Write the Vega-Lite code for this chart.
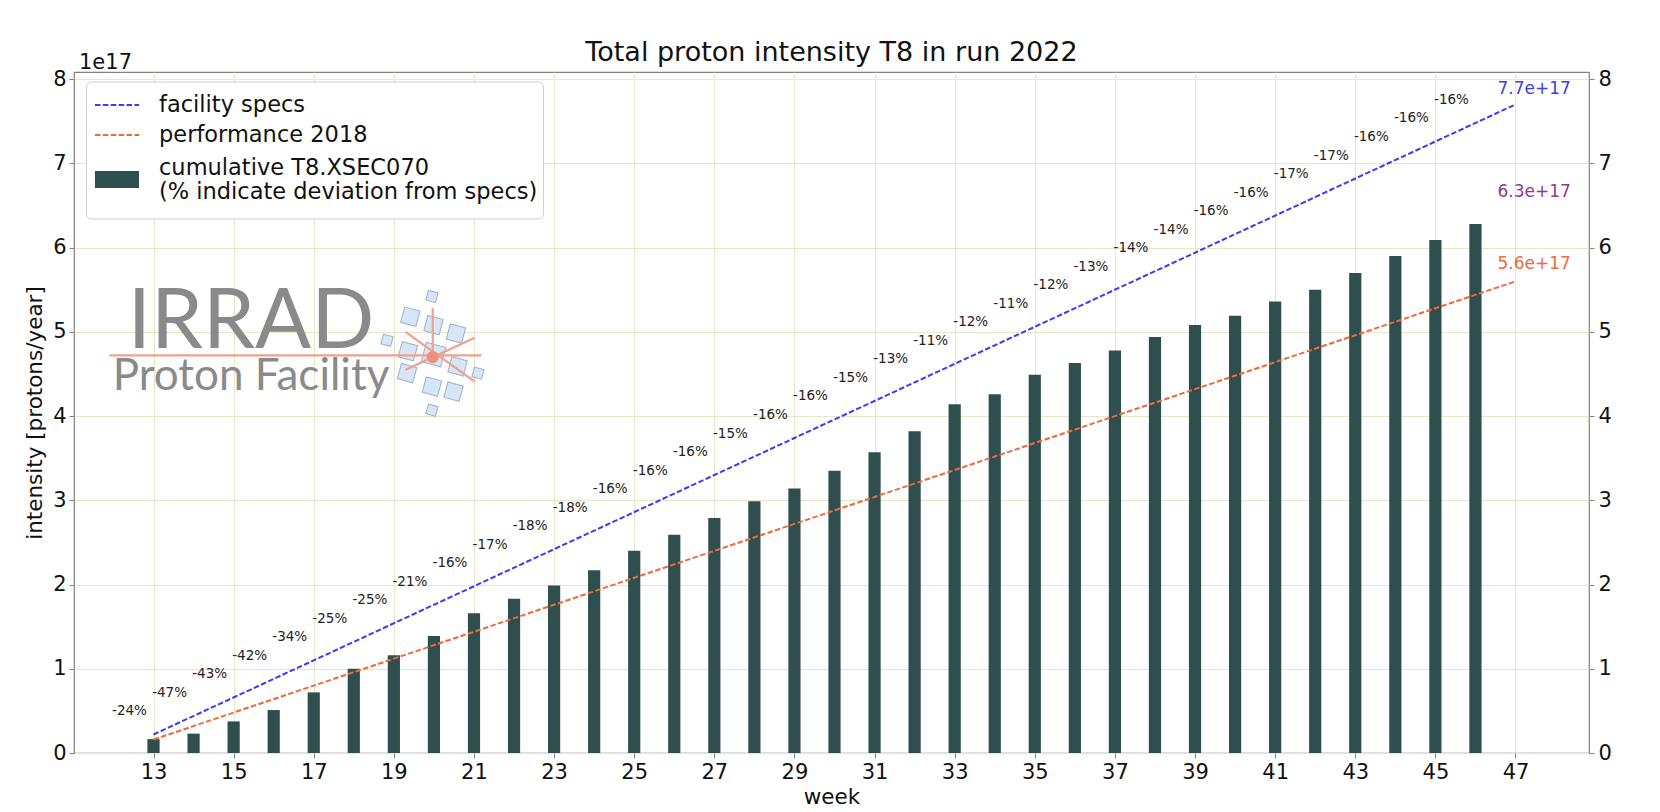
{
  "$schema": "https://vega.github.io/schema/vega-lite/v6.json",
  "width": 1515,
  "height": 681,
  "autosize": {"type": "none"},
  "padding": {"left": 74, "top": 72, "right": 71, "bottom": 58},
  "background": "white",
  "title": {
    "text": "Total proton intensity T8 in run 2022",
    "font": "DejaVu Sans",
    "fontSize": 27,
    "fontWeight": "normal",
    "color": "#111111",
    "offset": -15
  },
  "config": {
    "font": "DejaVu Sans",
    "view": {"stroke": "#808080", "strokeWidth": 1.2},
    "axis": {
      "labelFont": "DejaVu Sans",
      "labelFontSize": 21,
      "labelColor": "#111111",
      "titleFont": "DejaVu Sans",
      "titleFontSize": 21.5,
      "titleFontWeight": "normal",
      "titleColor": "#111111",
      "domain": false,
      "tickColor": "#808080",
      "tickSize": 5,
      "gridColor": "#ebe5c8",
      "gridWidth": 1,
      "gridOpacity": 1,
      "labelOverlap": false,
      "labelFlush": false
    }
  },
  "datasets": {
    "weeks": [
      {"week": 13, "value": 0.165, "spec": 0.22, "dev": "-24%"},
      {"week": 14, "value": 0.23, "spec": 0.44, "dev": "-47%"},
      {"week": 15, "value": 0.375, "spec": 0.66, "dev": "-43%"},
      {"week": 16, "value": 0.51, "spec": 0.88, "dev": "-42%"},
      {"week": 17, "value": 0.72, "spec": 1.10, "dev": "-34%"},
      {"week": 18, "value": 1.00, "spec": 1.32, "dev": "-25%"},
      {"week": 19, "value": 1.16, "spec": 1.54, "dev": "-25%"},
      {"week": 20, "value": 1.39, "spec": 1.76, "dev": "-21%"},
      {"week": 21, "value": 1.66, "spec": 1.98, "dev": "-16%"},
      {"week": 22, "value": 1.83, "spec": 2.20, "dev": "-17%"},
      {"week": 23, "value": 1.99, "spec": 2.42, "dev": "-18%"},
      {"week": 24, "value": 2.17, "spec": 2.64, "dev": "-18%"},
      {"week": 25, "value": 2.40, "spec": 2.86, "dev": "-16%"},
      {"week": 26, "value": 2.59, "spec": 3.08, "dev": "-16%"},
      {"week": 27, "value": 2.79, "spec": 3.30, "dev": "-16%"},
      {"week": 28, "value": 2.99, "spec": 3.52, "dev": "-15%"},
      {"week": 29, "value": 3.14, "spec": 3.74, "dev": "-16%"},
      {"week": 30, "value": 3.35, "spec": 3.96, "dev": "-16%"},
      {"week": 31, "value": 3.57, "spec": 4.18, "dev": "-15%"},
      {"week": 32, "value": 3.82, "spec": 4.40, "dev": "-13%"},
      {"week": 33, "value": 4.14, "spec": 4.62, "dev": "-11%"},
      {"week": 34, "value": 4.26, "spec": 4.84, "dev": "-12%"},
      {"week": 35, "value": 4.49, "spec": 5.06, "dev": "-11%"},
      {"week": 36, "value": 4.63, "spec": 5.28, "dev": "-12%"},
      {"week": 37, "value": 4.78, "spec": 5.50, "dev": "-13%"},
      {"week": 38, "value": 4.94, "spec": 5.72, "dev": "-14%"},
      {"week": 39, "value": 5.08, "spec": 5.94, "dev": "-14%"},
      {"week": 40, "value": 5.19, "spec": 6.16, "dev": "-16%"},
      {"week": 41, "value": 5.36, "spec": 6.38, "dev": "-16%"},
      {"week": 42, "value": 5.50, "spec": 6.60, "dev": "-17%"},
      {"week": 43, "value": 5.70, "spec": 6.82, "dev": "-17%"},
      {"week": 44, "value": 5.90, "spec": 7.04, "dev": "-16%"},
      {"week": 45, "value": 6.09, "spec": 7.26, "dev": "-16%"},
      {"week": 46, "value": 6.28, "spec": 7.48, "dev": "-16%"}
    ],
    "lines": [
      {"series": "facility specs", "week": 13, "value": 0.22},
      {"series": "facility specs", "week": 47, "value": 7.7},
      {"series": "performance 2018", "week": 13, "value": 0.16},
      {"series": "performance 2018", "week": 47, "value": 5.6}
    ],
    "logoLines": [
      {"week": 11.9, "value": 4.72, "week2": 21.19, "value2": 4.72},
      {"week": 19.29, "value": 5.00, "week2": 21.02, "value2": 4.41},
      {"week": 19.29, "value": 4.55, "week2": 21.02, "value2": 4.93},
      {"week": 19.97, "value": 5.28, "week2": 19.97, "value2": 4.75}
    ],
    "logoSquares": [
      {"week": 19.95, "value": 5.42, "s": "small"},
      {"week": 19.41, "value": 5.18, "s": "mid"},
      {"week": 19.99, "value": 5.08, "s": "mid"},
      {"week": 20.55, "value": 4.98, "s": "mid"},
      {"week": 18.83, "value": 4.90, "s": "small"},
      {"week": 19.35, "value": 4.77, "s": "mid"},
      {"week": 19.99, "value": 4.73, "s": "big"},
      {"week": 20.59, "value": 4.59, "s": "mid"},
      {"week": 21.10, "value": 4.51, "s": "small"},
      {"week": 19.33, "value": 4.51, "s": "mid"},
      {"week": 19.95, "value": 4.35, "s": "mid"},
      {"week": 20.49, "value": 4.29, "s": "mid"},
      {"week": 19.95, "value": 4.07, "s": "small"}
    ]
  },
  "encoding": {
    "x": {
      "field": "week",
      "type": "quantitative",
      "scale": {"domain": [11.14, 48.71], "nice": false, "zero": false},
      "axis": {
        "values": [13, 15, 17, 19, 21, 23, 25, 27, 29, 31, 33, 35, 37, 39, 41, 43, 45, 47],
        "title": "week",
        "grid": true,
        "labelPadding": 3,
        "titlePadding": 4
      }
    },
    "y": {
      "field": "value",
      "type": "quantitative",
      "scale": {"domain": [0, 8.085], "nice": false, "zero": false},
      "axis": null
    }
  },
  "layer": [
    {
      "data": {"name": "logoSquares"},
      "mark": {"type": "point", "shape": "square", "filled": true, "fill": "#d3e3f5", "stroke": "#8fa9c9", "strokeWidth": 1, "angle": 15, "opacity": 0.9},
      "encoding": {
        "size": {"field": "s", "type": "nominal", "scale": {"type": "ordinal", "domain": ["small", "mid", "big"], "range": [100, 250, 400]}, "legend": null}
      }
    },
    {
      "data": {"name": "logoLines"},
      "mark": {"type": "rule", "color": "#f0a08e", "strokeWidth": 2.2},
      "encoding": {
        "x2": {"field": "week2"},
        "y2": {"field": "value2"}
      }
    },
    {
      "data": {"values": [{"week": 19.97, "value": 4.70}]},
      "mark": {"type": "point", "filled": true, "color": "#f0907a", "opacity": 1, "size": 150},
      "encoding": {}
    },
    {
      "data": {"values": [{"week": 12.36, "value": 4.81}]},
      "mark": {"type": "text", "text": "IRRAD", "font": "Lato", "fontSize": 83, "color": "#8a8a8a", "align": "left", "baseline": "alphabetic"},
      "encoding": {}
    },
    {
      "data": {"values": [{"week": 11.98, "value": 4.31}]},
      "mark": {"type": "text", "text": "Proton Facility", "font": "Lato", "fontSize": 44, "color": "#8a8a8a", "align": "left", "baseline": "alphabetic"},
      "encoding": {}
    },
    {
      "data": {"name": "weeks"},
      "mark": {"type": "bar", "size": 12.2, "color": "#2f4f4f"},
      "encoding": {
        "y": {
          "field": "value",
          "type": "quantitative",
          "scale": {"domain": [0, 8.085], "nice": false, "zero": false},
          "axis": {
            "orient": "left",
            "values": [0, 1, 2, 3, 4, 5, 6, 7, 8],
            "title": "intensity [protons/year]",
            "grid": true,
            "labelPadding": 3,
            "titlePadding": 6
          }
        }
      }
    },
    {
      "data": {"name": "lines"},
      "mark": {"type": "line"},
      "encoding": {
        "y": {
          "field": "value",
          "type": "quantitative",
          "scale": {"domain": [0, 8.085], "nice": false, "zero": false},
          "axis": {
            "orient": "right",
            "values": [0, 1, 2, 3, 4, 5, 6, 7, 8],
            "title": null,
            "grid": false,
            "labelPadding": 4
          }
        },
        "color": {
          "field": "series",
          "type": "nominal",
          "scale": {
            "domain": ["facility specs", "performance 2018", "cumulative T8.XSEC070"],
            "range": ["#3b3bf2", "#ee6a3a", "#2f4f4f"]
          },
          "legend": {
            "title": null,
            "orient": "none",
            "legendX": 12,
            "legendY": 9.5,
            "direction": "vertical",
            "fillColor": "white",
            "strokeColor": "#d0d0d0",
            "cornerRadius": 5,
            "padding": 5,
            "labelFont": "DejaVu Sans",
            "labelFontSize": 22.5,
            "labelColor": "#111111",
            "labelLimit": 600,
            "labelOffset": 16,
            "symbolOffset": 0,
            "rowPadding": -1,
            "symbolType": "M-1.26,0H1.26",
            "symbolSize": 1225,
            "labelBaseline": {"expr": "datum.value == 'cumulative T8.XSEC070' ? 'bottom' : 'middle'"},
            "labelExpr": "datum.label == 'cumulative T8.XSEC070' ? ['cumulative T8.XSEC070', '(% indicate deviation from specs)'] : datum.label"
          }
        },
        "strokeDash": {
          "field": "series",
          "type": "nominal",
          "scale": {
            "domain": ["facility specs", "performance 2018", "cumulative T8.XSEC070"],
            "range": [[5.5, 2.4], [5.5, 2.4], [1, 0]]
          }
        },
        "strokeWidth": {
          "field": "series",
          "type": "nominal",
          "scale": {
            "type": "ordinal",
            "domain": ["facility specs", "performance 2018", "cumulative T8.XSEC070"],
            "range": [2, 2, 17]
          }
        }
      }
    },
    {
      "data": {"name": "weeks"},
      "mark": {"type": "text", "dx": -24, "dy": -23, "fontSize": 13.5, "color": "#222222", "align": "center", "baseline": "middle"},
      "encoding": {
        "y": {"field": "spec", "type": "quantitative", "scale": {"domain": [0, 8.085], "nice": false, "zero": false}, "axis": null},
        "text": {"field": "dev"}
      }
    },
    {
      "data": {"values": [{"week": 46.55, "value": 7.88}]},
      "mark": {"type": "text", "text": "7.7e+17", "fontSize": 17, "color": "#3b3bf2", "align": "left", "baseline": "middle"},
      "encoding": {}
    },
    {
      "data": {"values": [{"week": 46.55, "value": 6.66}]},
      "mark": {"type": "text", "text": "6.3e+17", "fontSize": 17, "color": "#8b3a96", "align": "left", "baseline": "middle"},
      "encoding": {}
    },
    {
      "data": {"values": [{"week": 46.55, "value": 5.80}]},
      "mark": {"type": "text", "text": "5.6e+17", "fontSize": 17, "color": "#ee6a3a", "align": "left", "baseline": "middle"},
      "encoding": {}
    },
    {
      "data": {"values": [{"week": 11.14, "value": 8.085}]},
      "mark": {"type": "text", "text": "1e17", "fontSize": 21, "color": "#111111", "align": "left", "baseline": "alphabetic", "dx": 0, "dy": -3},
      "encoding": {}
    }
  ],
  "resolve": {"axis": {"y": "independent"}}
}
